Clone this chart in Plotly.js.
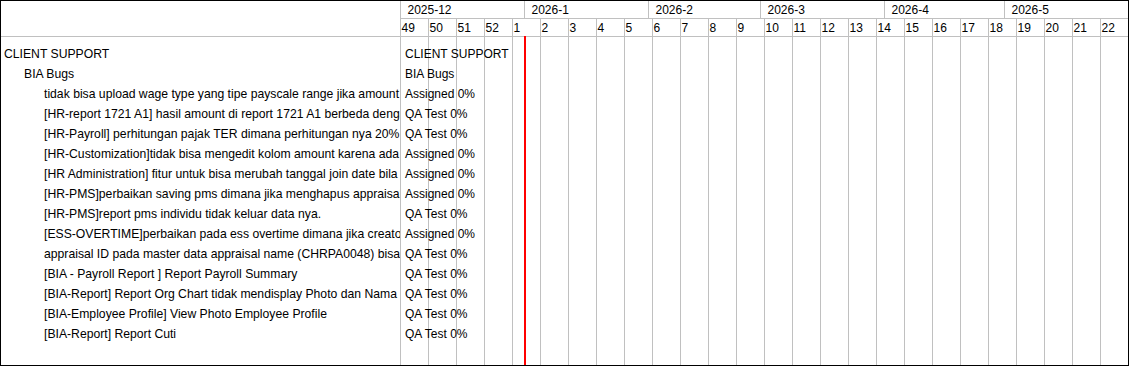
<!DOCTYPE html>
<html><head><meta charset="utf-8">
<script src="https://cdn.plot.ly/plotly-3.0.1.min.js"></script>
<style>
html,body{margin:0;padding:0;background:#fff}
#wrap{width:1129px;height:366px;border:1px solid #000;box-sizing:border-box;overflow:hidden;background:#fff}
#chart{width:1127px;height:364px}
</style></head>
<body><div id="wrap"><div id="chart"></div></div>
<script>
// ---- data ----
const taskNames = [
  'CLIENT SUPPORT',
  'BIA Bugs',
  'tidak bisa upload wage type yang tipe payscale range jika amount',
  '[HR-report 1721 A1] hasil amount di report 1721 A1 berbeda dengan',
  '[HR-Payroll] perhitungan pajak TER dimana perhitungan nya 20%',
  '[HR-Customization]tidak bisa mengedit kolom amount karena ada',
  '[HR Administration] fitur untuk bisa merubah tanggal join date bila',
  '[HR-PMS]perbaikan saving pms dimana jika menghapus appraisal',
  '[HR-PMS]report pms individu tidak keluar data nya.',
  '[ESS-OVERTIME]perbaikan pada ess overtime dimana jika creator',
  'appraisal ID pada master data appraisal name (CHRPA0048) bisa',
  '[BIA - Payroll Report ] Report Payroll Summary',
  '[BIA-Report] Report Org Chart tidak mendisplay Photo dan Nama Karyawan',
  '[BIA-Employee Profile] View Photo Employee Profile',
  '[BIA-Report] Report Cuti'
];
const taskLevels = [0, 1, 2, 2, 2, 2, 2, 2, 2, 2, 2, 2, 2, 2, 2];
const taskStatus = [null, null, 'Assigned', 'QA Test', 'QA Test', 'Assigned', 'Assigned', 'Assigned',
  'QA Test', 'Assigned', 'QA Test', 'QA Test', 'QA Test', 'QA Test', 'QA Test'];
const taskProgress = [null, null, 0, 0, 0, 0, 0, 0, 0, 0, 0, 0, 0, 0, 0];

const viewStart = '2025-12-01';
const viewEnd = '2026-06-01';
const today = '2026-01-01 06:00';
const weekNumbers = [49, 50, 51, 52, 1, 2, 3, 4, 5, 6, 7, 8, 9, 10, 11, 12, 13, 14, 15, 16, 17, 18, 19, 20, 21, 22];
const monthLabels = ['2025-12', '2026-1', '2026-2', '2026-3', '2026-4', '2026-5'];
const monthStarts = ['2025-12-01', '2026-01-01', '2026-02-01', '2026-03-01', '2026-04-01', '2026-05-01'];

// ---- derived ----
const DAY = 86400000;
const t0 = Date.parse(viewStart + 'T00:00:00Z');
const weekStarts = weekNumbers.map((w, i) => new Date(t0 + i * 7 * DAY).toISOString().slice(0, 10));
const rows = taskNames.map((_, i) => i);
const captions = taskNames.map((n, i) => taskStatus[i] === null ? n : taskStatus[i] + ' ' + taskProgress[i] + '%');

const W = 1127, H = 364;
const splitX = 399;          // left panel width (px)
const hdr1 = 17, hdr2 = 35;  // header row bottoms (px from top)
const font = {family: 'Liberation Sans, Arial, sans-serif', size: 12, color: '#000'};
const fontLeft = {family: 'Liberation Sans, Arial, sans-serif', size: 12.2, color: '#000'};
const grid = '#c0c0c0';

const traces = [
  // left panel task names
  {type: 'scatter', mode: 'text', x: taskLevels, y: rows, text: taskNames,
   textposition: 'middle right', textfont: fontLeft, xaxis: 'x3', yaxis: 'y', hoverinfo: 'skip'},
  // captions in chart area
  {type: 'scatter', mode: 'markers+text', x: rows.map(() => viewStart), y: rows, text: captions,
   textposition: 'middle right', textfont: font, marker: {size: 6.4, opacity: 0},
   xaxis: 'x', yaxis: 'y', hoverinfo: 'skip'},
  // week numbers
  {type: 'scatter', mode: 'markers+text', x: weekStarts, y: weekStarts.map(() => 0),
   text: weekNumbers.map(String), textposition: 'middle right', textfont: font,
   marker: {size: 0.8, opacity: 0}, xaxis: 'x', yaxis: 'y2', hoverinfo: 'skip'},
  // month labels
  {type: 'scatter', mode: 'markers+text', x: monthStarts, y: monthStarts.map(() => 0),
   text: monthLabels, textposition: 'middle right', textfont: font,
   marker: {size: 10.4, opacity: 0}, xaxis: 'x2', yaxis: 'y3', hoverinfo: 'skip'}
];

const bodyTop = (H - hdr2) / H;
const hdrMid = (H - hdr1) / H;
const rowPx = 20;
const y0 = -( (54.3 - hdr2) / rowPx );
const yRange = [y0 + (H - hdr2) / rowPx, y0];

const hidden = {showticklabels: false, zeroline: false, showline: false, ticks: '', fixedrange: true};

const layout = {
  width: W, height: H,
  margin: {l: 0, r: 0, t: 0, b: 0, pad: 0},
  paper_bgcolor: '#fff', plot_bgcolor: 'rgba(0,0,0,0)',
  showlegend: false, hovermode: false,
  xaxis: Object.assign({}, hidden, {type: 'date', domain: [splitX / W, 1], range: [viewStart, viewEnd],
    tick0: viewStart, dtick: 7 * DAY, showgrid: true, gridcolor: grid, gridwidth: 1, anchor: 'y'}),
  xaxis2: Object.assign({}, hidden, {type: 'date', domain: [splitX / W, 1], range: [viewStart, viewEnd],
    tickmode: 'array', tickvals: monthStarts, showgrid: true, gridcolor: grid, gridwidth: 1, anchor: 'y3'}),
  xaxis3: Object.assign({}, hidden, {domain: [0, splitX / W], range: [-(3 / rowPx), -(3 / rowPx) + splitX / rowPx],
    showgrid: false, anchor: 'y'}),
  yaxis: Object.assign({}, hidden, {domain: [0, bodyTop], range: yRange, showgrid: false, anchor: 'x'}),
  yaxis2: Object.assign({}, hidden, {domain: [bodyTop, hdrMid], range: [-0.372, 0.628], showgrid: false, anchor: 'x'}),
  yaxis3: Object.assign({}, hidden, {domain: [hdrMid, 1], range: [-0.394, 0.606], showgrid: false, anchor: 'x2'}),
  shapes: [
    {type: 'line', xref: 'paper', yref: 'paper', x0: (splitX + 0.5) / W, x1: (splitX + 0.5) / W, y0: 0, y1: 1,
     line: {color: grid, width: 1}},
    {type: 'line', xref: 'paper', yref: 'paper', x0: 0, x1: 1, y0: (H - hdr2 - 0.5) / H, y1: (H - hdr2 - 0.5) / H,
     line: {color: grid, width: 1}},
    {type: 'line', xref: 'paper', yref: 'paper', x0: splitX / W, x1: 1, y0: (H - hdr1 - 0.5) / H, y1: (H - hdr1 - 0.5) / H,
     line: {color: grid, width: 1}},
    {type: 'line', xref: 'x', yref: 'paper', x0: today, x1: today, y0: 0, y1: bodyTop,
     line: {color: '#ff0000', width: 2}}
  ]
};

Plotly.newPlot('chart', traces, layout, {staticPlot: true, displayModeBar: false});
</script>
</body></html>
